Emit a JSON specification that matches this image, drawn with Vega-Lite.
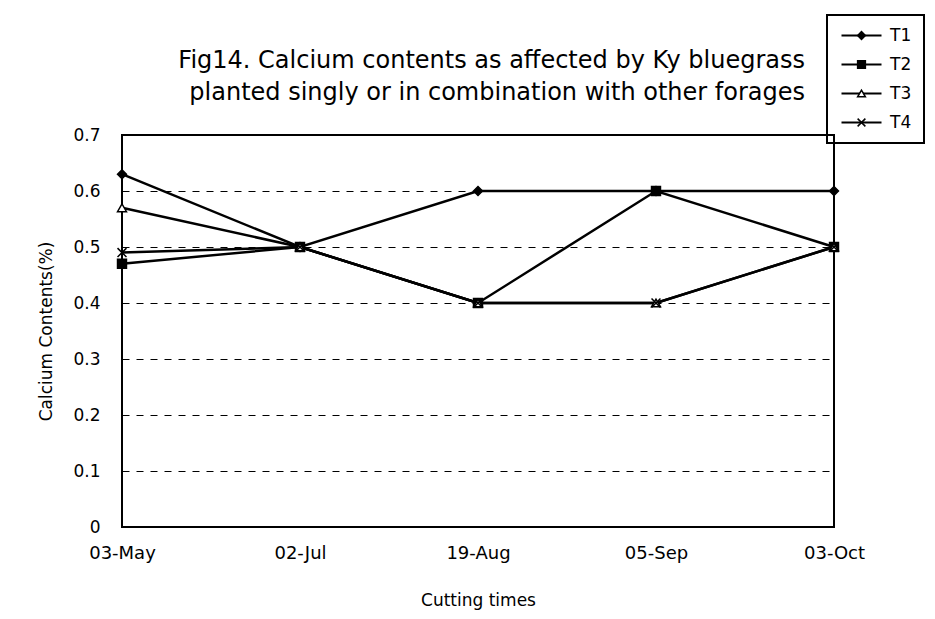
{
  "$schema": "https://vega.github.io/schema/vega-lite/v6.json",
  "width": 712,
  "height": 392,
  "autosize": {"type": "none"},
  "padding": {"left": 122, "top": 135, "right": 101, "bottom": 92},
  "background": "white",
  "config": {
    "font": "DejaVu Sans",
    "view": {"stroke": "black", "strokeWidth": 2},
    "axis": {"labelColor": "black", "titleColor": "black", "labelFont": "DejaVu Sans", "titleFont": "DejaVu Sans", "titleFontWeight": "normal"},
    "legend": {"labelFont": "DejaVu Sans", "labelColor": "black"}
  },
  "title": {
    "text": ["Fig14. Calcium contents as affected by Ky bluegrass", "planted singly or in combination with other forages"],
    "anchor": "end",
    "frame": "group",
    "dx": -29,
    "offset": -91,
    "fontSize": 24,
    "fontWeight": "normal",
    "font": "DejaVu Sans",
    "color": "black",
    "lineHeight": 32
  },
  "data": {
    "values": [
      {"date": "03-May", "series": "T1", "value": 0.63},
      {"date": "02-Jul", "series": "T1", "value": 0.5},
      {"date": "19-Aug", "series": "T1", "value": 0.6},
      {"date": "05-Sep", "series": "T1", "value": 0.6},
      {"date": "03-Oct", "series": "T1", "value": 0.6},
      {"date": "03-May", "series": "T2", "value": 0.47},
      {"date": "02-Jul", "series": "T2", "value": 0.5},
      {"date": "19-Aug", "series": "T2", "value": 0.4},
      {"date": "05-Sep", "series": "T2", "value": 0.6},
      {"date": "03-Oct", "series": "T2", "value": 0.5},
      {"date": "03-May", "series": "T3", "value": 0.57},
      {"date": "02-Jul", "series": "T3", "value": 0.5},
      {"date": "19-Aug", "series": "T3", "value": 0.4},
      {"date": "05-Sep", "series": "T3", "value": 0.4},
      {"date": "03-Oct", "series": "T3", "value": 0.5},
      {"date": "03-May", "series": "T4", "value": 0.49},
      {"date": "02-Jul", "series": "T4", "value": 0.5},
      {"date": "19-Aug", "series": "T4", "value": 0.4},
      {"date": "05-Sep", "series": "T4", "value": 0.4},
      {"date": "03-Oct", "series": "T4", "value": 0.5}
    ]
  },
  "encoding": {
    "x": {
      "field": "date",
      "type": "ordinal",
      "sort": ["03-May", "02-Jul", "19-Aug", "05-Sep", "03-Oct"],
      "scale": {"type": "point", "padding": 0},
      "axis": {
        "title": "Cutting times",
        "titleFontSize": 17,
        "titlePadding": 30,
        "labelFontSize": 18,
        "labelAngle": 0,
        "labelPadding": 17,
        "ticks": false,
        "domain": false,
        "grid": false
      }
    },
    "y": {
      "field": "value",
      "type": "quantitative",
      "scale": {"domain": [0, 0.7], "nice": false, "zero": true},
      "axis": {
        "title": "Calcium Contents(%)",
        "titleFontSize": 17,
        "titlePadding": 17,
        "labelFontSize": 17,
        "labelPadding": 22,
        "values": [0, 0.1, 0.2, 0.3, 0.4, 0.5, 0.6, 0.7],
        "format": "~g",
        "ticks": false,
        "domain": false,
        "grid": true,
        "gridColor": "black",
        "gridDash": [7, 7],
        "gridWidth": 1,
        "gridOpacity": 1
      }
    }
  },
  "layer": [
    {
      "mark": {"type": "line", "strokeWidth": 2.5, "clip": false},
      "encoding": {
        "color": {
          "field": "series",
          "type": "nominal",
          "scale": {"domain": ["T1", "T2", "T3", "T4"], "range": ["black", "black", "black", "black"]},
          "legend": {
            "orient": "none",
            "legendX": 705,
            "legendY": -120,
            "title": null,
            "symbolType": "M-5,0H5",
            "symbolSize": 64,
            "symbolStrokeWidth": 2,
            "symbolStrokeColor": "black",
            "symbolOffset": 14,
            "labelOffset": 20,
            "labelFontSize": 17,
            "rowPadding": 11,
            "padding": 12,
            "strokeColor": "black",
            "encode": {"legend": {"update": {"strokeWidth": {"value": 2}}}}
          }
        }
      }
    },
    {
      "mark": {"type": "point", "filled": true, "strokeWidth": 1.5, "opacity": 1, "size": 80, "clip": false},
      "encoding": {
        "shape": {
          "field": "series",
          "type": "nominal",
          "scale": {"range": ["diamond", "square", "triangle-up", "M-1,-1L1,1M-1,1L1,-1"]},
          "legend": {
            "orient": "none",
            "legendX": 705,
            "legendY": -120,
            "title": null,
            "symbolSize": 60,
            "symbolStrokeWidth": 1.5,
            "symbolOffset": 14,
            "labelOffset": 20,
            "labelFontSize": 17,
            "labelOpacity": 0,
            "rowPadding": 11,
            "padding": 12
          }
        },
        "fill": {
          "field": "series",
          "type": "nominal",
          "scale": {"range": ["black", "black", "white", "black"]}
        },
        "stroke": {
          "field": "series",
          "type": "nominal",
          "scale": {"range": ["black", "black", "black", "black"]}
        }
      }
    }
  ]
}
